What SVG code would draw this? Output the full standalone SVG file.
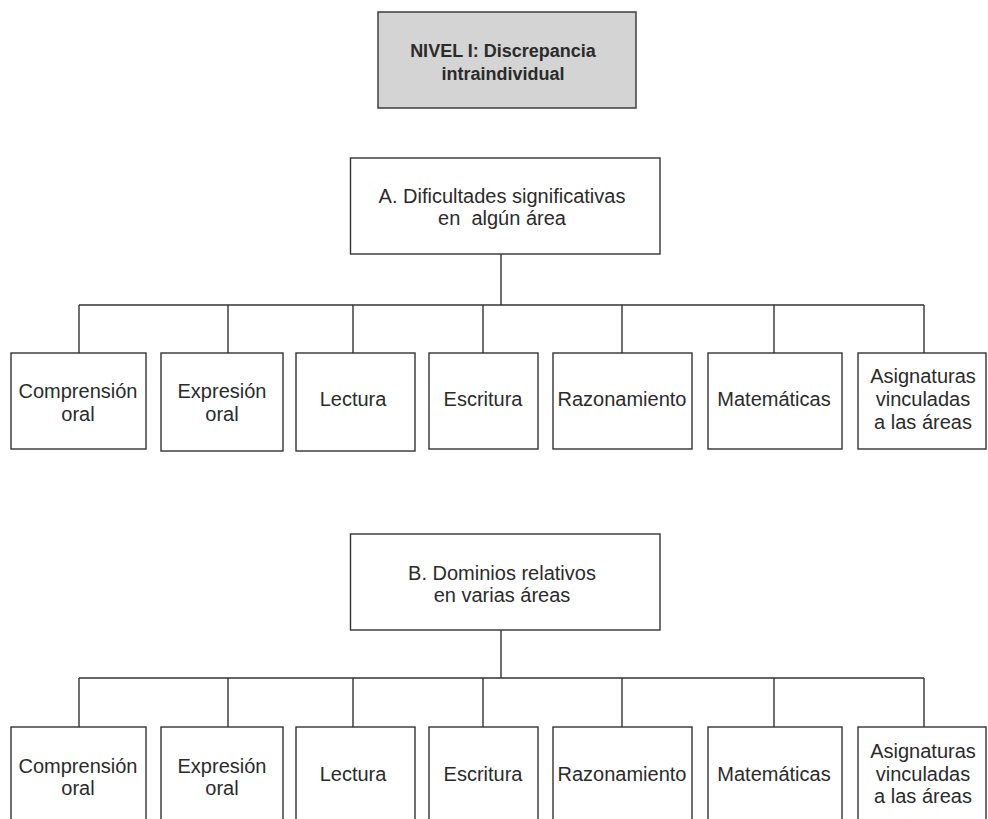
<svg xmlns="http://www.w3.org/2000/svg" width="988" height="819" viewBox="0 0 988 819">
<style>
.box{fill:#ffffff;stroke:#333333;stroke-width:1.4}
.title{fill:#d4d4d4;stroke:#333333;stroke-width:1.4}
.t{font-family:"Liberation Sans",Arial,sans-serif;font-size:20px;fill:#2b2b2b;text-anchor:middle}
.tb{font-family:"Liberation Sans",Arial,sans-serif;font-size:18px;font-weight:bold;fill:#2b2b2b;text-anchor:middle}
.c{fill:none;stroke:#333333;stroke-width:1.4}
</style>
<rect width="988" height="819" fill="#ffffff"/>
<g id="connectors">
<path class="c" d="M501 254V305M79 305H924M79 305V353M228 305V353M353 305V353M483 305V353M622 305V353M774 305V353M924 305V353"/>
<path class="c" d="M501 630V678M79 678H924M79 678V727M228 678V727M353 678V727M483 678V727M622 678V727M774 678V727M924 678V727"/>
</g>
<g id="nivel">
<rect class="title" x="378" y="12" width="258" height="96"/>
<text class="tb" x="503" y="57">NIVEL I: Discrepancia</text>
<text class="tb" x="503" y="80">intraindividual</text>
</g>
<g id="A">
<rect class="box" x="350.5" y="158" width="309.5" height="96"/>
<text class="t" x="502" y="203">A. Dificultades significativas</text>
<text class="t" x="502" y="225" xml:space="preserve">en  algún área</text>
</g>
<g id="A1"><rect class="box" x="11" y="353" width="135" height="96"/><text class="t" x="78" y="398">Comprensión</text><text class="t" x="78" y="421">oral</text></g>
<g id="A2"><rect class="box" x="161" y="353" width="122" height="98"/><text class="t" x="222" y="398">Expresión</text><text class="t" x="222" y="421">oral</text></g>
<g id="A3"><rect class="box" x="296" y="353" width="119" height="98"/><text class="t" x="353" y="406">Lectura</text></g>
<g id="A4"><rect class="box" x="429" y="353" width="109" height="96"/><text class="t" x="483" y="406">Escritura</text></g>
<g id="A5"><rect class="box" x="553" y="353" width="139" height="96"/><text class="t" x="622" y="406">Razonamiento</text></g>
<g id="A6"><rect class="box" x="708" y="353" width="134" height="96"/><text class="t" x="774" y="406">Matemáticas</text></g>
<g id="A7"><rect class="box" x="858" y="353" width="128" height="96"/><text class="t" x="923" y="383">Asignaturas</text><text class="t" x="923" y="406">vinculadas</text><text class="t" x="923" y="429">a las áreas</text></g>
<g id="B">
<rect class="box" x="350.5" y="534" width="309.5" height="96"/>
<text class="t" x="502" y="580">B. Dominios relativos</text>
<text class="t" x="502" y="602">en varias áreas</text>
</g>
<g id="B1"><rect class="box" x="11" y="727" width="135" height="100"/><text class="t" x="78" y="773">Comprensión</text><text class="t" x="78" y="795">oral</text></g>
<g id="B2"><rect class="box" x="161" y="727" width="122" height="100"/><text class="t" x="222" y="773">Expresión</text><text class="t" x="222" y="795">oral</text></g>
<g id="B3"><rect class="box" x="296" y="727" width="119" height="100"/><text class="t" x="353" y="781">Lectura</text></g>
<g id="B4"><rect class="box" x="429" y="727" width="109" height="100"/><text class="t" x="483" y="781">Escritura</text></g>
<g id="B5"><rect class="box" x="553" y="727" width="139" height="100"/><text class="t" x="622" y="781">Razonamiento</text></g>
<g id="B6"><rect class="box" x="708" y="727" width="134" height="100"/><text class="t" x="774" y="781">Matemáticas</text></g>
<g id="B7"><rect class="box" x="858" y="727" width="128" height="100"/><text class="t" x="923" y="758">Asignaturas</text><text class="t" x="923" y="781">vinculadas</text><text class="t" x="923" y="803">a las áreas</text></g>
</svg>
